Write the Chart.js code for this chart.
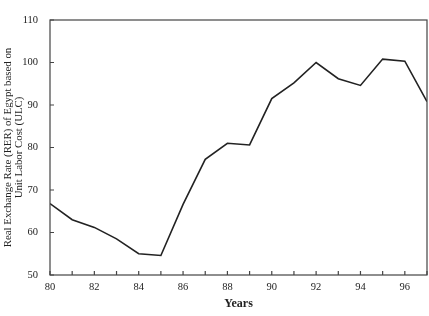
<!DOCTYPE html>
<html>
<head>
<meta charset="utf-8">
<script src="https://cdn.jsdelivr.net/npm/chart.js@4.4.1/dist/chart.umd.min.js"></script>
<style>
  html, body { margin: 0; padding: 0; background: #fff; }
  #wrap { width: 429px; height: 316px; }
</style>
</head>
<body>
<div id="wrap"><canvas id="rer"></canvas></div>
<script>
// datos
const years = [80, 81, 82, 83, 84, 85, 86, 87, 88, 89, 90, 91, 92, 93, 94, 95, 96, 97];
const rer = [66.8, 63, 61.2, 58.5, 55, 54.6, 66.6, 77.2, 81, 80.6, 91.5, 95.2, 100, 96.2, 94.6, 100.8, 100.3, 90.8];
const yTicks = [50, 60, 70, 80, 90, 100, 110];
const xLabels = [80, 82, 84, 86, 88, 90, 92, 94, 96];

const serif = "'Liberation Serif', 'DejaVu Serif', serif";

// marco y marcas hacia adentro
const marco = {
    id: 'marco',
    afterDraw(chart) {
        const ctx = chart.ctx;
        const a = chart.chartArea;
        const x = chart.scales.x;
        const y = chart.scales.y;
        ctx.save();
        ctx.strokeStyle = '#444';
        ctx.lineWidth = 1.2;
        ctx.strokeRect(a.left, a.top, a.right - a.left, a.bottom - a.top);
        ctx.beginPath();
        years.forEach(v => {
            const px = x.getPixelForValue(v);
            ctx.moveTo(px, a.bottom);
            ctx.lineTo(px, a.bottom - 4);
        });
        yTicks.forEach(v => {
            const py = y.getPixelForValue(v);
            ctx.moveTo(a.left, py);
            ctx.lineTo(a.left + 4, py);
        });
        ctx.stroke();
        ctx.restore();
    }
};

const data = {
    datasets: [{
        data: years.map((v, i) => ({ x: v, y: rer[i] })),
        borderColor: '#222',
        borderWidth: 1.6,
        pointRadius: 0,
        tension: 0,
        fill: false
    }]
};

const config = {
    type: 'line',
    data: data,
    options: {
        responsive: true,
        maintainAspectRatio: false,
        animation: false,
        layout: { padding: { top: 20, right: 2, left: 0, bottom: 0 } },
        plugins: {
            legend: { display: false },
            tooltip: { enabled: false }
        },
        scales: {
            x: {
                type: 'linear',
                min: 80,
                max: 97,
                grid: { display: false },
                border: { display: false },
                afterBuildTicks: s => { s.ticks = years.map(v => ({ value: v })); },
                afterFit: s => { s.height = 41; s.paddingRight = 0; s.paddingLeft = 0; },
                ticks: {
                    autoSkip: false,
                    maxRotation: 0,
                    padding: -2,
                    color: '#222',
                    font: { family: serif, size: 10.5 },
                    callback: v => xLabels.includes(v) ? String(v) : ''
                },
                title: {
                    display: true,
                    text: 'Years',
                    color: '#222',
                    padding: { top: 3, bottom: 5 },
                    font: { family: serif, size: 12, weight: 'bold' }
                }
            },
            y: {
                min: 50,
                max: 110,
                grid: { display: false },
                border: { display: false },
                afterBuildTicks: s => { s.ticks = yTicks.map(v => ({ value: v })); },
                afterFit: s => { s.width = 50; },
                ticks: {
                    padding: 4,
                    color: '#222',
                    font: { family: serif, size: 10.5 }
                },
                title: {
                    display: true,
                    text: ['Real Exchange Rate (RER) of Egypt based on', 'Unit Labor Cost (ULC)'],
                    color: '#222',
                    padding: { top: 3, bottom: 2 },
                    font: { family: serif, size: 10.8, lineHeight: 1.0 }
                }
            }
        }
    },
    plugins: [marco]
};

new Chart(document.querySelector('#rer'), config);
</script>
</body>
</html>
